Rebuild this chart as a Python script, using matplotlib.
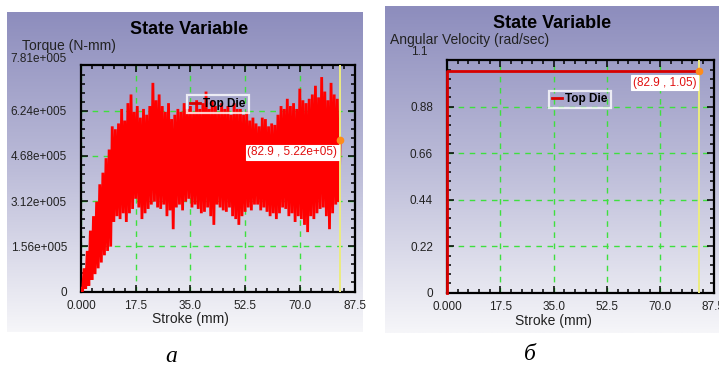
"""State Variable plots (DEFORM-style): torque and angular velocity of the top die vs stroke."""

import matplotlib

matplotlib.use("Agg")

import matplotlib.pyplot as plt  # noqa: E402
import numpy as np  # noqa: E402
from matplotlib.colors import LinearSegmentedColormap  # noqa: E402
from matplotlib.ticker import AutoMinorLocator, FixedLocator  # noqa: E402

plt.rcParams["font.family"] = ["Liberation Sans", "DejaVu Sans"]

W, H = 719, 369

# ----------------------------------------------------------------------------
# data
# ----------------------------------------------------------------------------
# stroke samples (mm), one per millimetre; upper/lower swing of the torque
stroke_samples = np.arange(0, 83)
torque_upper = [
    0.1, 0.8, 1.4, 2.1, 2.6, 3.1, 3.7, 4.1, 4.6, 4.9,
    5.7, 5.6, 5.8, 6.3, 5.9, 6.5, 6.8, 6.2, 6.4, 6.0,
    6.3, 6.1, 6.4, 7.2, 6.6, 6.8, 6.4, 6.2, 6.5, 5.95,
    6.1, 6.3, 6.2, 6.5, 6.3, 6.4, 6.2, 6.6, 6.3, 6.5,
    6.9, 6.3, 6.6, 6.4, 6.2, 6.5, 6.3, 6.4, 6.1, 6.5,
    6.3, 6.3, 6.1, 6.2, 5.9, 6.0, 5.8, 5.7, 6.0, 5.95,
    5.7, 5.8, 5.75, 6.1, 6.4, 6.3, 6.65, 6.4, 6.5, 6.3,
    7.0, 6.6, 6.5, 6.65, 6.8, 7.1, 6.7, 7.4, 6.9, 6.6,
    7.2, 6.8, 6.65,
]
torque_lower = [
    0.0, 0.1, 0.2, 0.4, 0.6, 0.8, 1.0, 1.25, 1.4, 1.55,
    2.4, 2.6, 2.5, 2.7, 2.4, 2.7, 2.85, 3.2, 2.9, 2.5,
    2.7, 2.85, 3.0, 3.1, 2.9, 2.85, 3.0, 2.6, 2.8, 2.15,
    2.9, 3.0, 2.8, 3.1, 3.2, 2.9, 3.0, 2.85, 2.7, 2.75,
    2.9, 2.6, 2.3, 3.0, 2.9, 2.8, 2.75, 2.9, 2.6, 2.5,
    2.3, 2.6, 2.75, 2.9, 2.8, 3.0, 3.0, 2.8, 2.9, 2.75,
    2.6, 2.7, 2.5, 2.7, 2.9, 2.85, 2.6, 2.7, 2.4, 2.6,
    2.5, 2.3, 2.05, 2.6, 2.5, 2.7, 2.85, 2.9, 2.6, 2.15,
    2.7, 3.0, 3.1,
]
torque_scale = 1e5

# cursor position (yellow line) and readouts
cursor_stroke = 82.9
cursor_torque = 5.22e5
cursor_omega = 1.05

omega_stroke = [0.0, 0.0, 82.9]
omega_values = [0.0, 1.05, 1.05]

x_ticks = [0.0, 17.5, 35.0, 52.5, 70.0, 87.5]
x_ticklabels = ["0.000", "17.5", "35.0", "52.5", "70.0", "87.5"]
torque_ticks = [0, 1.56e5, 3.12e5, 4.68e5, 6.24e5]
torque_ticklabels = ["0", "1.56e+005", "3.12e+005", "4.68e+005", "6.24e+005"]
torque_max_label = "7.81e+005"
torque_max = 7.81e5
omega_ticks = [0, 0.22, 0.44, 0.66, 0.88]
omega_ticklabels = ["0", "0.22", "0.44", "0.66", "0.88"]
omega_max_label = "1.1"
omega_max = 1.1

# ----------------------------------------------------------------------------
# style
# ----------------------------------------------------------------------------
_GRID = "#3ee03e"
_RED = "#ff0000"
_LINE_RED = "#d80000"
_CURSOR = "#ecec80"
_DOT = "#ff8c1a"
_BG = LinearSegmentedColormap.from_list("panel", ["#8d8dbd", "#bdbdd9", "#f6f6f9"])


def fx(px):
    return px / W


def fy(py):
    return 1 - py / H


def add_panel(fig, x0, y0, x1, y1):
    """Gradient background panel behind the plot (pixel box)."""
    bg = fig.add_axes([fx(x0), fy(y1), fx(x1 - x0), (y1 - y0) / H], zorder=0)
    bg.imshow(np.linspace(0, 1, 256).reshape(-1, 1), aspect="auto", cmap=_BG,
              extent=(0, 1, 0, 1))
    bg.axis("off")


def add_plot_axes(fig, x0, y0, x1, y1):
    ax = fig.add_axes([fx(x0), fy(y1), fx(x1 - x0), (y1 - y0) / H], zorder=2)
    ax.patch.set_alpha(0)
    return ax


def style_axes(ax, yticks, yticklabels, ymax):
    ax.set_xlim(0, 87.5)
    ax.set_ylim(0, ymax)
    ax.xaxis.set_major_locator(FixedLocator(x_ticks))
    ax.set_xticklabels(x_ticklabels)
    ax.yaxis.set_major_locator(FixedLocator(yticks))
    ax.set_yticklabels(yticklabels)
    ax.xaxis.set_minor_locator(AutoMinorLocator(5))
    ax.yaxis.set_minor_locator(AutoMinorLocator(5))
    ax.tick_params(which="both", direction="in", top=True, right=True,
                   width=1.1, colors="black", labelsize=8.5)
    ax.tick_params(which="major", length=5)
    ax.tick_params(which="minor", length=3)
    ax.tick_params(axis="x", pad=6)
    ax.tick_params(axis="y", pad=10)
    for lbl in ax.get_xticklabels() + ax.get_yticklabels():
        lbl.set_color("#222222")
    for spine in ax.spines.values():
        spine.set_linewidth(1.6)
        spine.set_color("black")
    ax.grid(True, which="major", color=_GRID, linestyle=(0, (4, 4)), linewidth=1)
    ax.set_axisbelow(True)


def add_legend(ax, anchor):
    ax.plot([], [], color=_LINE_RED, lw=2, label="Top Die")
    leg = ax.legend(loc="center", bbox_to_anchor=anchor, frameon=True, fancybox=False,
                    handlelength=0.8, handletextpad=0.3, borderpad=0.25,
                    prop={"weight": "bold", "size": 8.5})
    leg.get_frame().set_facecolor("none")
    leg.get_frame().set_edgecolor("white")
    leg.get_frame().set_linewidth(1.6)
    leg.set_zorder(5)


def add_cursor(ax, yval, text):
    ax.axvline(cursor_stroke, color=_CURSOR, lw=1.4, zorder=4)
    ax.plot([cursor_stroke], [yval], "o", color=_DOT, ms=4.5, zorder=6, clip_on=False)
    ax.annotate(text, xy=(cursor_stroke, yval), xytext=(-3, -12),
                textcoords="offset pixels", ha="right", va="center",
                color="#e01010", fontsize=8.5, zorder=7,
                bbox=dict(boxstyle="square,pad=0.12", fc="white", ec="white", lw=0.8))


fig = plt.figure(figsize=(W / 100, H / 100), dpi=100, facecolor="white")

# ----------------------------------------------------------------------------
# (a) torque
# ----------------------------------------------------------------------------
add_panel(fig, 7, 12, 363, 332)
ax1 = add_plot_axes(fig, 81, 65.2, 354.5, 291.5)

# zig-zag between the upper and lower swings, half a millimetre apart
zx = np.empty(2 * len(stroke_samples) + 1)
zy = np.empty_like(zx)
zx[0:-1:2] = stroke_samples
zx[1:-1:2] = stroke_samples + 0.5
zy[0:-1:2] = np.array(torque_upper) * torque_scale
zy[1:-1:2] = np.array(torque_lower) * torque_scale
zx[-1] = cursor_stroke
zy[-1] = cursor_torque
ax1.plot(zx, zy, color=_RED, lw=2.0, zorder=3, solid_joinstyle="miter")

style_axes(ax1, torque_ticks, torque_ticklabels, torque_max)
add_cursor(ax1, cursor_torque, "(82.9 , 5.22e+05)")
add_legend(ax1, (0.501, 0.829))

fig.text(fx(189), fy(30), "State Variable", ha="center", va="center",
         fontsize=13, fontweight="bold", zorder=10)
fig.text(fx(22), fy(46), "Torque (N-mm)", ha="left", va="center", fontsize=10,
         color="#222222", zorder=10)
fig.text(fx(67), fy(58.5), torque_max_label, ha="right", va="center", fontsize=8.5,
         color="#222222", zorder=10)
fig.text(fx(190), fy(319), "Stroke (mm)", ha="center", va="center", fontsize=10,
         color="#222222", zorder=10)

# ----------------------------------------------------------------------------
# (б) angular velocity
# ----------------------------------------------------------------------------
add_panel(fig, 385, 6, 719, 333)
ax2 = add_plot_axes(fig, 447, 60.2, 713.5, 292.7)
ax2.plot(omega_stroke, omega_values, color=_LINE_RED, lw=2, zorder=3, clip_on=False)

style_axes(ax2, omega_ticks, omega_ticklabels, omega_max)
add_cursor(ax2, cursor_omega, "(82.9 , 1.05)")
add_legend(ax2, (0.499, 0.831))

fig.text(fx(552), fy(23), "State Variable", ha="center", va="center",
         fontsize=13, fontweight="bold", zorder=10)
fig.text(fx(390), fy(40), "Angular Velocity (rad/sec)", ha="left", va="center",
         fontsize=10, color="#222222", zorder=10)
fig.text(fx(419), fy(52), omega_max_label, ha="center", va="center", fontsize=8.5,
         color="#222222", zorder=10)
fig.text(fx(553), fy(321), "Stroke (mm)", ha="center", va="center", fontsize=10,
         color="#222222", zorder=10)

# captions
fig.text(fx(171), fy(357), "а", ha="center", va="center", fontsize=17,
         family="Liberation Serif", style="italic")
fig.text(fx(530), fy(355), "б", ha="center", va="center", fontsize=17,
         family="Liberation Serif", style="italic")

fig.savefig("out.png", dpi=100, facecolor="white")
